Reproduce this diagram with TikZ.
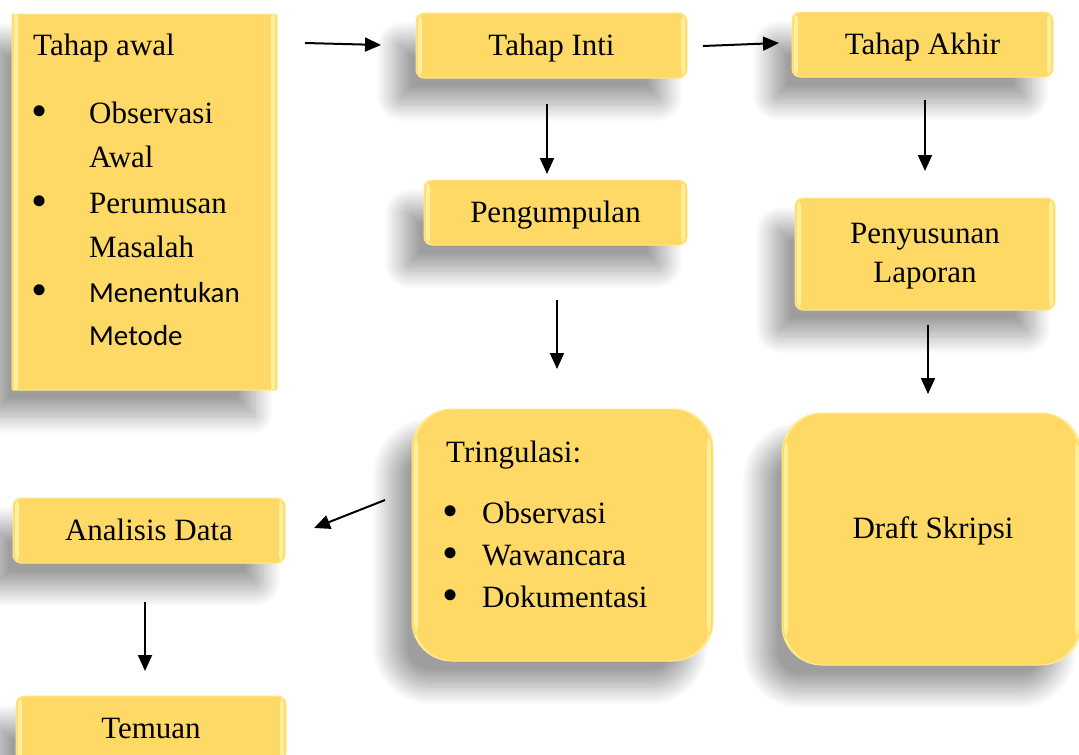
\documentclass[tikz,border=0pt]{standalone}
\usepackage{fontspec}
\setmainfont{Liberation Serif}
\newfontfamily\calibri{Carlito}
\usetikzlibrary{arrows.meta,shadows.blur}
\definecolor{gold}{RGB}{255,217,102}
\definecolor{hlc}{RGB}{255,246,175}
\definecolor{edgec}{RGB}{255,232,140}
\tikzset{
  gbox/.style={fill=gold, draw=edgec, line width=1pt, inner sep=0pt,
    text height=19pt, text depth=0pt,
    blur shadow={shadow xshift=-22pt, shadow yshift=-26pt, shadow blur radius=18pt, shadow blur steps=30, shadow opacity=38},
    path picture={
      \fill[hlc, opacity=0.8] ([xshift=2pt]path picture bounding box.north west) rectangle ([xshift=6pt]path picture bounding box.south west);
      \fill[hlc, opacity=0.8] ([xshift=-2pt]path picture bounding box.north east) rectangle ([xshift=-6pt]path picture bounding box.south east);
    }},
  smallr/.style={rounded corners=8pt},
  bigr/.style={rounded corners=40pt},
  arr/.style={-{Triangle[length=16pt,width=14pt]}, line width=2pt},
  txt/.style={inner sep=0pt},
  bul/.style={inner sep=0pt, anchor=base, font=\fontsize{46}{46}\selectfont},
}
\begin{document}
\begin{tikzpicture}[x=1pt,y=-1pt,font=\fontsize{31}{37}\selectfont]
\useasboundingbox (0,0) rectangle (1079,755);

% boxes
\node[gbox, rounded corners=1pt, minimum width=265pt, minimum height=376pt] (awal) at (144.5,202) {};
\node[gbox, smallr, minimum width=271pt, minimum height=65pt] (inti) at (551.5,45.5) {Tahap Inti};
\node[gbox, smallr, minimum width=261pt, minimum height=65pt] (akhir) at (922.5,44.5) {Tahap Akhir};
\node[gbox, smallr, minimum width=263pt, minimum height=65pt] (kumpul) at (555.5,212.5) {Pengumpulan};
\node[gbox, smallr, minimum width=260pt, minimum height=112pt] (susun) at (925,254) {};
\node[gbox, bigr, minimum width=301pt, minimum height=252pt] (tring) at (562.5,535) {};
\node[gbox, bigr, minimum width=299pt, minimum height=252pt] (draft) at (931.5,539) {};
\node[gbox, smallr, minimum width=272pt, minimum height=65pt] (analisis) at (149,530.5) {Analisis Data};
\node[gbox, smallr, minimum width=270pt, minimum height=65pt] (temuan) at (151,728.5) {Temuan};

% Penyusunan Laporan / Draft Skripsi texts
\node[txt, anchor=base] (su1) at (925,243) {Penyusunan};
\node[txt, anchor=base] (su2) at (925,282) {Laporan};
\node[txt, anchor=base] (dr1) at (933,538) {Draft Skripsi};

% Tahap awal contents
\node[txt, anchor=base west] (awalT) at (33,55) {Tahap awal};
\node[bul] (ab1) at (40,126) {•};
\node[txt, anchor=base west] (aw1) at (89,123) {Observasi};
\node[txt, anchor=base west] (aw1b) at (89,167) {Awal};
\node[bul] (ab2) at (40,216) {•};
\node[txt, anchor=base west] (aw2) at (89,213) {Perumusan};
\node[txt, anchor=base west] (aw2b) at (89,257) {Masalah};
\node[bul] (ab3) at (40,305) {•};
\node[txt, anchor=base west, font=\calibri\fontsize{29}{35}\selectfont] (aw3) at (89,302) {Menentukan};
\node[txt, anchor=base west, font=\calibri\fontsize{29}{35}\selectfont] (aw3b) at (89,345) {Metode};

% Tringulasi contents
\node[txt, anchor=base west] (trT) at (446,462) {Tringulasi:};
\node[bul] (tb1) at (451,526) {•};
\node[txt, anchor=base west] (tr1) at (482,523) {Observasi};
\node[bul] (tb2) at (451,568) {•};
\node[txt, anchor=base west] (tr2) at (482,565) {Wawancara};
\node[bul] (tb3) at (451,610) {•};
\node[txt, anchor=base west] (tr3) at (482,607) {Dokumentasi};

% arrow end points
\coordinate (a1s) at (305,43);  \coordinate (a1e) at (381,45);
\coordinate (a2s) at (703,46);  \coordinate (a2e) at (779,43);
\coordinate (a3s) at (547,104); \coordinate (a3e) at (547,174);
\coordinate (a4s) at (925,100); \coordinate (a4e) at (925,171);
\coordinate (a5s) at (557,300); \coordinate (a5e) at (557,369);
\coordinate (a6s) at (928,325); \coordinate (a6e) at (928,394);
\coordinate (a7s) at (385,500); \coordinate (a7e) at (314,528);
\coordinate (a8s) at (145,602); \coordinate (a8e) at (145,671);

\draw[arr] (a1s) -- (a1e);
\draw[arr] (a2s) -- (a2e);
\draw[arr] (a3s) -- (a3e);
\draw[arr] (a4s) -- (a4e);
\draw[arr] (a5s) -- (a5e);
\draw[arr] (a6s) -- (a6e);
\draw[arr] (a7s) -- (a7e);
\draw[arr] (a8s) -- (a8e);
\end{tikzpicture}
\end{document}
